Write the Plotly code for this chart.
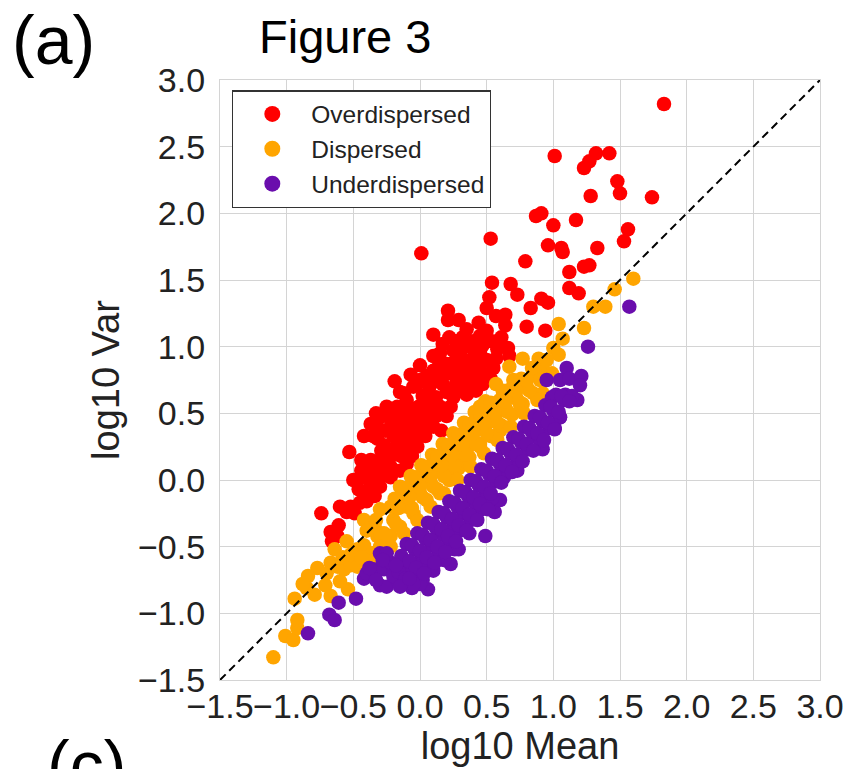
import plotly.graph_objects as go

# ---------------- data ----------------
over_x = [1.83, 1.01, 1.32, 1.27, 1.23, 1.42, 1.48, 1.50, 1.28, 1.74, 0.87, 0.91, 1.00, 1.17, 0.53,
          1.56, 1.53, 0.96, 1.06, 1.07, 1.33, 0.79, 1.23, 1.27, 0.01, 1.12, 1.12, 1.19, 0.91, 0.96,
          0.94, 0.54, 0.68, 0.73, 0.52, 0.50, 0.83, 0.21, 0.29, 0.21, 0.57, 0.64, 0.44, 0.64, 0.80,
          0.10, 0.22, 0.32, 0.50, 0.61, 0.66, 0.67, 0.57, 0.00, -0.19, -0.07, 0.05, -0.12, 0.17, 0.40,
          0.47, 0.54, 0.25, 0.32, 0.40, 0.50, 0.20, 0.27, 0.37, 0.47, 0.14, 0.07, 0.17, 0.27, 0.37,
          0.47, 0.53, 0.12, 0.25, 0.35, 0.42, -0.15, -0.10, -0.33, -0.37, -0.19, -0.09, -0.42, -0.22, -0.32,
          -0.27, -0.53, -0.37, -0.44, -0.30, -0.44, -0.50, -0.46, -0.40, -0.34, -0.74, -0.60, -0.55, -0.49, -0.22,
          -0.15, -0.30, -0.52, -0.45, -0.40, -0.67, -0.61, -0.66, -0.62,
          -0.25, -0.17, -0.09, -0.01, 0.07, 0.15, 0.23,
          -0.28, -0.12, -0.04, 0.04, 0.12, 0.20,
          -0.32, -0.14, -0.06, 0.02, 0.10,
          -0.35, -0.20, -0.12, -0.04, 0.04,
          -0.18, -0.10, -0.02,
          -0.22, -0.14, -0.06,
          -0.37, -0.30, -0.10,
          -0.42, -0.36, -0.22,
          -0.37, -0.30,
          -0.05, 0.02, 0.00, 0.10, 0.30, 0.45, 0.35, 0.58, 0.55,
          0.20, 0.30, 0.15, 0.22, 0.32, 0.42, 0.10, 0.25, 0.35, 0.45, 0.15, 0.30, 0.45, 0.27, 0.37,
          0.12, 0.05, -0.02, -0.21, -0.13, -0.26, -0.29, -0.08, -0.16, -0.24, 0.08, 0.16]
over_y = [2.82, 2.43, 2.45, 2.39, 2.34, 2.45, 2.24, 2.15, 2.13, 2.12, 1.98, 2.00, 1.91, 1.95, 1.81,
          1.88, 1.79, 1.76, 1.74, 1.71, 1.74, 1.64, 1.60, 1.61, 1.70, 1.56, 1.44, 1.40, 1.36, 1.33,
          1.12, 1.48, 1.47, 1.39, 1.37, 1.29, 1.29, 1.27, 1.20, 1.20, 1.23, 1.24, 1.18, 1.16, 1.15,
          1.09, 1.07, 1.07, 1.12, 1.07, 0.99, 0.93, 0.91, 0.86, 0.74, 0.79, 0.78, 0.65, 1.02, 1.04,
          1.01, 1.04, 0.97, 0.90, 0.92, 0.90, 0.87, 0.82, 0.82, 0.80, 0.85, 0.70, 0.72, 0.72, 0.71,
          0.72, 0.76, 0.62, 0.62, 0.64, 0.67, 0.66, 0.60, 0.50, 0.42, 0.50, 0.52, 0.33, 0.40, 0.31,
          0.26, 0.21, 0.15, 0.15, 0.15, 0.07, 0.00, -0.07, -0.11, -0.12, -0.25, -0.20, -0.24, -0.25, 0.10,
          0.07, 0.02, -0.20, -0.17, -0.16, -0.39, -0.34, -0.46, -0.42,
          0.55, 0.55, 0.55, 0.55, 0.55, 0.55, 0.55,
          0.48, 0.47, 0.48, 0.48, 0.48, 0.48,
          0.40, 0.40, 0.40, 0.40, 0.40,
          0.33, 0.33, 0.33, 0.33, 0.33,
          0.25, 0.25, 0.25,
          0.18, 0.18, 0.18,
          0.10, 0.09, 0.12,
          0.02, 0.03, 0.02,
          -0.05, -0.05,
          0.70, 0.63, 0.75, 0.93, 1.00, 1.08, 1.13, 0.98, 0.84,
          0.66, 0.68, 0.78, 0.80, 0.77, 0.76, 0.82, 0.88, 0.86, 0.86, 0.95, 0.95, 0.96, 1.04, 1.00,
          0.74, 0.63, 0.72, 0.44, 0.44, 0.37, 0.22, 0.22, 0.29, 0.07, 0.43, 0.37]

disp_x = [1.60, 1.46, 1.30, 1.39, 1.04, 1.23, 1.07, 1.00, 1.04, 0.92, 0.99, 0.92, 0.77, 0.89, 0.67,
          0.77, 0.65, 0.75, 0.60, 0.45, 0.50, 0.60, 0.45, 0.35, 0.30, 0.25, 0.22, 0.15, 0.57, 0.62,
          0.70, 0.72,
          -1.10, -1.01, -0.95, -0.92, -0.92, -0.94, -0.85, -0.79, -0.67, -0.71, -0.54, -0.77, -0.67, -0.62,
          -0.57, -0.52, -0.47, -0.64, -0.55, -0.47, -0.42, -0.52, -0.42, -0.34, -0.32, -0.27, -0.22, -0.30,
          -0.22, -0.17, -0.36, -0.37,
          -0.25, -0.15, -0.05, 0.05, 0.13, 0.21, 0.29, 0.37, 0.45, 0.53, 0.61, 0.69, 0.77, 0.85,
          -0.30, -0.20, -0.10, 0.00, 0.08, 0.16, 0.24, 0.32, 0.40, 0.48, 0.56, 0.64, 0.72, 0.80, 0.88,
          -0.12, -0.04, 0.04, 0.12, 0.20, 0.28, 0.36, 0.44, 0.52, 0.60, 0.68, 0.76, 0.84,
          -0.15, -0.07, 0.01, 0.09, 0.17, 0.25, 0.33, 0.41, 0.49,
          0.95,
          -0.22, -0.12, -0.02, 0.08, 0.18, 0.28, 0.38, 0.48, 0.58, 0.68, 0.78, 0.88,
          -0.26, -0.18, -0.06, 0.02, 0.10, 0.18, 0.26, 0.34, 0.42, 0.50, 0.58, 0.66, 0.74, 0.82, 0.90,
          -0.16, -0.08, 0.00, 0.08, 0.16, 0.24, 0.32, 0.40, 0.48, 0.56, 0.64, 0.72, 0.80,
          -0.19, -0.11, -0.03, 0.05, 0.13, 0.21, 0.29, 0.37, 0.45, 0.53,
          -0.40, -0.33, -0.30, -0.44, -0.58, -0.70, -0.60, -0.84, -0.88]
disp_y = [1.51, 1.43, 1.30, 1.30, 1.17, 1.14, 1.06, 0.99, 0.94, 0.84, 0.80, 0.65, 0.91, 0.91, 0.85,
          0.72, 0.67, 0.57, 0.52, 0.55, 0.42, 0.37, 0.27, 0.22, 0.15, 0.07, 0.00, -0.10, 0.72, 0.67,
          0.75, 0.67,
          -1.33, -1.17, -1.20, -1.11, -1.05, -0.89, -0.81, -0.86, -0.87, -0.79, -0.82, -0.66, -0.62, -0.65,
          -0.67, -0.64, -0.65, -0.52, -0.46, -0.52, -0.49, -0.56, -0.30, -0.35, -0.42, -0.40, -0.42, -0.22,
          -0.20, -0.17, -0.55, -0.61,
          -0.45, -0.35, -0.25, -0.15, -0.07, 0.01, 0.09, 0.17, 0.25, 0.33, 0.41, 0.49, 0.57, 0.65,
          -0.40, -0.30, -0.20, -0.10, -0.02, 0.06, 0.14, 0.22, 0.30, 0.38, 0.46, 0.54, 0.62, 0.70, 0.78,
          -0.12, -0.04, 0.04, 0.12, 0.20, 0.28, 0.36, 0.44, 0.52, 0.60, 0.68, 0.76, 0.84,
          -0.05, 0.03, 0.11, 0.19, 0.27, 0.35, 0.43, 0.51, 0.59,
          0.90,
          -0.50, -0.40, -0.30, -0.20, -0.10, 0.00, 0.10, 0.20, 0.30, 0.40, 0.50, 0.60,
          -0.41, -0.33, -0.21, -0.13, -0.05, 0.03, 0.11, 0.19, 0.27, 0.35, 0.43, 0.51, 0.59, 0.67, 0.75,
          -0.21, -0.13, -0.05, 0.03, 0.11, 0.19, 0.27, 0.35, 0.43, 0.51, 0.59, 0.67, 0.75,
          -0.14, -0.06, 0.02, 0.10, 0.18, 0.26, 0.34, 0.42, 0.50, 0.58,
          -0.38, -0.30, -0.50, -0.58, -0.58, -0.70, -0.76, -0.72, -0.78]

under_x = [1.57, 1.26, 1.10, 0.95, 1.05, 1.12, 1.21, 1.20, 1.09, 1.18, 0.99,
           -0.84, -0.68, -0.64, -0.61, -0.48, -0.30, -0.42, -0.35, -0.27, -0.30, -0.25, -0.17, -0.06, 0.06,
           0.23, 0.09, 0.49, 0.56, 0.60, 0.37, 0.29, 0.02, 0.63, 0.73, 0.92, 1.01, 1.05, 1.14,
           -0.10, -0.02, 0.06, 0.14, 0.22, 0.30, 0.38, 0.46, 0.54, 0.62, 0.70, 0.78, 0.86, 0.94, 1.02,
           -0.20, -0.12, -0.04, 0.04, 0.12, 0.20, 0.28, 0.36, 0.44, 0.52, 0.60, 0.68, 0.76, 0.84, 0.92, 1.00, 1.08,
           -0.15, -0.07, 0.01, 0.09, 0.17, 0.25, 0.33, 0.41, 0.49, 0.57, 0.65, 0.73, 0.81, 0.89, 0.97, 1.05,
           -0.10, -0.02, 0.06, 0.14, 0.22, 0.30, 0.38, 0.46, 0.54,
           0.00, 0.10, 0.18, 0.26,
           -0.40, -0.22, -0.20, -0.12, -0.25,
           -0.14, -0.06, 0.02, 0.10, 0.18, 0.26, 0.34, 0.42, 0.50, 0.58, 0.66, 0.74, 0.82, 0.90, 0.98, 1.06,
           -0.16, -0.08, 0.00, 0.08, 0.16, 0.24, 0.32, 0.40, 0.48, 0.56, 0.64, 0.72, 0.80, 0.88, 0.96, 1.04, 1.12,
           -0.11, -0.03, 0.05, 0.13, 0.21, 0.29, 0.37, 0.45, 0.53, 0.61, 0.69, 0.77, 0.85, 0.93, 1.01,
           -0.05, 0.03, 0.11, 0.19, 0.27, 0.35, 0.43, 0.51,
           -0.33, -0.38, -0.15, -0.08, -0.28, -0.18]
under_y = [1.30, 1.00, 0.84, 0.75, 0.75, 0.76, 0.78, 0.71, 0.64, 0.60, 0.62,
           -1.15, -1.01, -1.05, -0.92, -0.89, -0.55, -0.74, -0.67, -0.67, -0.79, -0.80, -0.75, -0.81, -0.82,
           -0.63, -0.66, -0.42, -0.24, -0.15, -0.40, -0.52, -0.75, 0.02, 0.07, 0.23, 0.39, 0.47, 0.63,
           -0.48, -0.40, -0.32, -0.24, -0.16, -0.08, 0.00, 0.08, 0.16, 0.24, 0.32, 0.40, 0.48, 0.56, 0.64,
           -0.68, -0.60, -0.52, -0.44, -0.36, -0.28, -0.20, -0.12, -0.04, 0.04, 0.12, 0.20, 0.28, 0.36, 0.44, 0.52, 0.60,
           -0.73, -0.65, -0.57, -0.49, -0.41, -0.33, -0.25, -0.17, -0.09, -0.01, 0.07, 0.15, 0.23, 0.31, 0.39, 0.47,
           -0.78, -0.70, -0.62, -0.54, -0.46, -0.38, -0.30, -0.22, -0.14,
           -0.78, -0.68, -0.60, -0.52,
           -0.70, -0.62, -0.72, -0.70, -0.55,
           -0.57, -0.49, -0.41, -0.33, -0.25, -0.17, -0.09, -0.01, 0.07, 0.15, 0.23, 0.31, 0.39, 0.47, 0.55, 0.63,
           -0.69, -0.61, -0.53, -0.45, -0.37, -0.29, -0.21, -0.13, -0.05, 0.03, 0.11, 0.19, 0.27, 0.35, 0.43, 0.51, 0.59,
           -0.74, -0.66, -0.58, -0.50, -0.42, -0.34, -0.26, -0.18, -0.10, -0.02, 0.06, 0.14, 0.22, 0.30, 0.38,
           -0.78, -0.70, -0.62, -0.54, -0.46, -0.38, -0.30, -0.22,
           -0.75, -0.66, -0.80, -0.74, -0.60, -0.64]

category_names = ["Overdispersed", "Dispersed", "Underdispersed"]
category_colors = ["#ff0000", "#ffa500", "#6a0dad"]
diag = [-1.5, 3.0]
tick_vals = [-1.5, -1.0, -0.5, 0.0, 0.5, 1.0, 1.5, 2.0, 2.5, 3.0]

FONT = "Liberation Sans, Arial, sans-serif"
MS = 14.5

fig = go.Figure()
series = [(over_x, over_y), (disp_x, disp_y), (under_x, under_y)]
for (xs, ys), name, col in zip(series, category_names, category_colors):
    fig.add_trace(go.Scatter(x=xs, y=ys, mode="markers", name=name, showlegend=False,
                             marker=dict(color=col, size=MS, line=dict(width=0))))
# legend entries (larger legend symbols, as in the reference)
for name, col in zip(category_names, category_colors):
    fig.add_trace(go.Scatter(x=[None], y=[None], mode="markers", name=name,
                             marker=dict(color=col, size=16, line=dict(width=0))))
fig.add_trace(go.Scatter(x=diag, y=diag, mode="lines", showlegend=False, hoverinfo="skip",
                         line=dict(color="black", width=2, dash="8px,5px")))

axis_common = dict(range=[-1.5, 3.0], tickvals=tick_vals, tickformat=".1f",
                   showgrid=True, gridcolor="#d4d4d4", gridwidth=1.3,
                   showline=True, linecolor="#d4d4d4", linewidth=1.3, mirror=True,
                   zeroline=False, tickangle=0, automargin=False,
                   tickfont=dict(family=FONT, size=34, color="#222222"))

fig.update_layout(
    width=848, height=769,
    margin=dict(l=220, r=28, t=80, b=89),
    paper_bgcolor="white", plot_bgcolor="white",
    xaxis=dict(**axis_common, ticks="", ticklabelstandoff=-4,
               title=dict(text="log10 Mean", font=dict(family=FONT, size=38, color="#222222"),
                          standoff=1)),
    yaxis=dict(**axis_common, ticks="", ticklabelstandoff=7,
               title=dict(text="log10 Var", font=dict(family=FONT, size=38, color="#222222"),
                          standoff=6)),
    legend=dict(x=0.02, y=0.983, xanchor="left", yanchor="top",
                bgcolor="white", bordercolor="#333333", borderwidth=1.3,
                font=dict(family=FONT, size=24.5, color="#222222"),
                itemsizing="trace", itemwidth=68),
    annotations=[
        dict(text="Figure 3", x=(345 - 220) / 600, y=(680 - 36) / 600, xref="paper", yref="paper",
             xanchor="center", yanchor="middle", showarrow=False,
             font=dict(family=FONT, size=47, color="black")),
        dict(text="(a)", x=(53 - 220) / 600, y=(680 - 40) / 600, xref="paper", yref="paper",
             xanchor="center", yanchor="middle", showarrow=False,
             font=dict(family=FONT, size=68, color="black")),
        dict(text="(c)", x=(86 - 220) / 600, y=(680 - 765) / 600, xref="paper", yref="paper",
             xanchor="center", yanchor="middle", showarrow=False,
             font=dict(family=FONT, size=68, color="black")),
    ],
)

fig.write_html("out.html")
